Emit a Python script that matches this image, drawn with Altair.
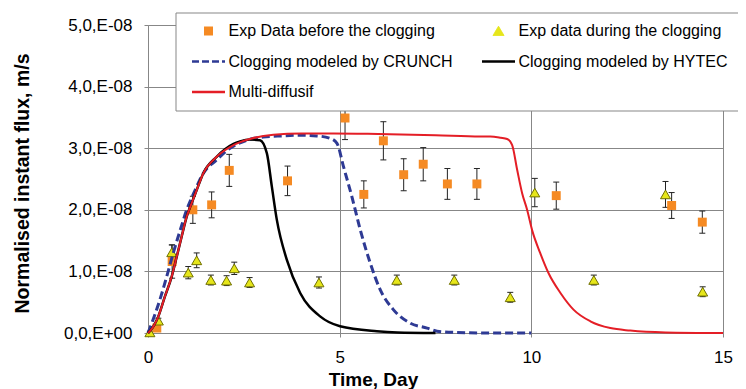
import altair as alt
import pandas as pd

S1 = "Exp Data before the clogging"
S2 = "Exp data during the clogging"
S3 = "Clogging modeled by CRUNCH"
S4 = "Clogging modeled by HYTEC"
S5 = "Multi-diffusif"
series_names = [S1, S2, S3, S4, S5]
series_colors = ["#F58A23", "#E6E61A", "#2E3A94", "#000000", "#E41E26"]

UNIT = 1e-8  # values below are in units of 1e-8 m/s

# Exp data before the clogging (orange squares) with error bars
sq_x = [0.23, 0.63, 1.17, 1.66, 2.12, 3.64, 5.14, 5.63, 6.14, 6.67, 7.18, 7.81, 8.58, 10.65, 13.66, 14.46]
sq_y = [0.08, 1.16, 2.00, 2.08, 2.64, 2.47, 3.49, 2.25, 3.12, 2.57, 2.74, 2.42, 2.42, 2.23, 2.07, 1.80]
sq_err = [0.03, 0.27, 0.22, 0.21, 0.26, 0.24, 0.35, 0.22, 0.31, 0.26, 0.27, 0.25, 0.25, 0.22, 0.21, 0.18]

# Exp data during the clogging (yellow triangles) with error bars
tri_x = [0.05, 0.27, 0.62, 1.05, 1.27, 1.64, 2.05, 2.25, 2.65, 4.46, 6.49, 7.99, 9.45, 10.09, 11.63, 13.50, 14.47]
tri_y = [0.01, 0.20, 1.31, 0.98, 1.18, 0.86, 0.85, 1.05, 0.82, 0.82, 0.86, 0.86, 0.58, 2.28, 0.86, 2.25, 0.67]
tri_err = [0.02, 0.04, 0.12, 0.10, 0.12, 0.08, 0.08, 0.10, 0.08, 0.09, 0.08, 0.08, 0.08, 0.23, 0.08, 0.21, 0.08]

# Clogging modeled by CRUNCH (blue dashed)
crunch_x = [0, 0.10, 0.31, 0.49, 0.66, 0.84, 1.01, 1.23, 1.44, 1.79, 2.14, 2.58, 3.00, 3.50, 3.97, 4.40,
            4.75, 4.93, 5.10, 5.32, 5.54, 5.80, 6.06, 6.40, 6.84, 7.28, 7.54, 8.00, 9.00, 10.00]
crunch_y = [0, 0.16, 0.54, 0.92, 1.30, 1.67, 2.00, 2.32, 2.59, 2.81, 3.00, 3.13, 3.18, 3.20, 3.21, 3.20,
            3.16, 3.08, 2.70, 2.21, 1.67, 1.13, 0.70, 0.38, 0.16, 0.08, 0.03, 0.01, 0, 0]

# Clogging modeled by HYTEC (black)
hytec_x = [0, 0.05, 0.27, 0.44, 0.62, 0.75, 0.88, 1.01, 1.14, 1.27, 1.44, 1.79, 2.23, 2.40, 2.66, 2.92,
           3.10, 3.23, 3.36, 3.62, 3.97, 4.49, 5.01, 5.97, 6.50, 7.50]
hytec_y = [0, 0.03, 0.27, 0.59, 0.92, 1.24, 1.57, 1.89, 2.11, 2.32, 2.59, 2.86, 3.07, 3.11, 3.14, 3.13,
           2.92, 2.38, 1.84, 1.19, 0.65, 0.27, 0.11, 0.03, 0.01, 0]

# Multi-diffusif (red)
md_x = [0, 0.05, 0.27, 0.44, 0.62, 0.75, 0.88, 1.01, 1.14, 1.27, 1.44, 1.79, 2.23, 2.66, 3.27, 4.00,
        4.84, 6.00, 7.50, 8.67, 8.93, 9.20, 9.37, 9.50, 9.63, 9.76, 9.89, 10.02, 10.23, 10.45, 10.76,
        11.10, 11.54, 12.06, 12.58, 13.50, 15.00]
md_y = [0, 0.03, 0.27, 0.59, 0.92, 1.24, 1.57, 1.89, 2.11, 2.32, 2.59, 2.86, 3.05, 3.15, 3.22, 3.24,
        3.24, 3.23, 3.21, 3.19, 3.19, 3.17, 3.15, 3.05, 2.65, 2.27, 2.00, 1.67, 1.30, 0.97, 0.65,
        0.38, 0.19, 0.08, 0.04, 0.01, 0]

x_ticks = [0, 5, 10, 15]
y_ticks = [0, 1e-8, 2e-8, 3e-8, 4e-8, 5e-8]


def points_df(xs, ys, errs, name):
    return pd.DataFrame({
        "t": xs,
        "v": [y * UNIT for y in ys],
        "lo": [(y - e) * UNIT for y, e in zip(ys, errs)],
        "hi": [(y + e) * UNIT for y, e in zip(ys, errs)],
        "series": name,
    })


def line_df(xs, ys, name):
    return pd.DataFrame({"t": xs, "v": [y * UNIT for y in ys], "series": name})


sq_df = points_df(sq_x, sq_y, sq_err, S1)
tri_df = points_df(tri_x, tri_y, tri_err, S2)
err_df = pd.concat([sq_df, tri_df], ignore_index=True)
crunch_df = line_df(crunch_x, crunch_y, S3)
hytec_df = line_df(hytec_x, hytec_y, S4)
md_df = line_df(md_x, md_y, S5)

FONT = "Liberation Sans"
GRID = "#878787"

xaxis = alt.Axis(
    values=x_ticks, grid=True, gridColor=GRID, gridWidth=1,
    domainColor=GRID, tickColor=GRID, tickSize=4, labelPadding=12,
    labelFont=FONT, labelFontSize=17, labelColor="black", labelFlush=False,
    titleFont=FONT, titleFontSize=19, titleFontWeight="bold", titleColor="black",
    titleX=225, titleY=52, titleAlign="center", titleBaseline="alphabetic",
)
yaxis = alt.Axis(
    values=y_ticks, grid=True, gridColor=GRID, gridWidth=1,
    domainColor=GRID, tickColor=GRID, tickSize=4, labelPadding=12,
    labelExpr="datum.value == 0 ? '0,0,E+00' : replace(format(datum.value * 1e8, '.1f'), '.', ',') + ',E-08'",
    labelFont=FONT, labelFontSize=17, labelColor="black",
    titleFont=FONT, titleFontSize=19.5, titleFontWeight="bold", titleColor="black",
    titleX=-126, titleY=158, titleAngle=-90, titleAlign="center", titleBaseline="middle",
)
xscale = alt.Scale(domain=[0, 15], nice=False)
yscale = alt.Scale(domain=[0, 5e-8], nice=False)

X = alt.X("t:Q", scale=xscale, axis=xaxis, title="Time, Day")


def Y(field):
    return alt.Y(f"{field}:Q", scale=yscale, axis=yaxis, title="Normalised instant flux, m/s")


is_sq = f"datum.value === '{S1}'"
is_tri = f"datum.value === '{S2}'"
is_dash = f"datum.value === '{S3}'"
SQ_PATH = "M-0.9,-0.9H0.9V0.9H-0.9Z"
TRI_PATH = "M0,-0.95L1.1,0.9L-1.1,0.9Z"
LINE_PATH = "M-3.3,0H3.3"

legend = alt.Legend(
    title=None, orient="none", legendX=27.5, legendY=-12.5, columns=2, direction="horizontal",
    padding=10.5, rowPadding=14.5, columnPadding=23,
    symbolSize=100, symbolOffset=14.5, labelOffset=12,
    symbolStrokeWidth={"expr": f"{is_sq} ? 0 : ({is_tri} ? 1 : 2.5)"},
    symbolType={"expr": f"{is_sq} ? '{SQ_PATH}' : ({is_tri} ? '{TRI_PATH}' : '{LINE_PATH}')"},
    symbolDash={"expr": f"{is_dash} ? [7, 3] : [1, 0]"},
    symbolFillColor={"expr": f"({is_sq} || {is_tri}) ? scale('color', datum.value) : 'transparent'"},
    symbolStrokeColor={"expr": f"{is_sq} ? 'transparent' : ({is_tri} ? '#707000' : scale('color', datum.value))"},
    symbolOpacity=1,
    fillColor="white", strokeColor=GRID,
    labelFont=FONT, labelFontSize=16, labelColor="black", labelLimit=400,
)
color = alt.Color("series:N", scale=alt.Scale(domain=series_names, range=series_colors), legend=legend)

bars = alt.Chart(err_df).mark_rule(color="#222222", strokeWidth=1).encode(x=X, y=Y("lo"), y2="hi:Q")
cap_lo = alt.Chart(err_df).mark_tick(color="#222222", thickness=1, size=6, orient="horizontal", opacity=1).encode(x=X, y=Y("lo"))
cap_hi = alt.Chart(err_df).mark_tick(color="#222222", thickness=1, size=6, orient="horizontal", opacity=1).encode(x=X, y=Y("hi"))

squares = alt.Chart(sq_df).mark_point(shape="square", filled=True, size=80, opacity=1).encode(
    x=X, y=Y("v"), color=color)
triangles = alt.Chart(tri_df).mark_point(shape="triangle-up", filled=True, size=100, opacity=1).encode(
    x=X, y=Y("v"), color=color)
tri_outline = alt.Chart(tri_df).mark_point(shape="triangle-up", filled=False, size=100, opacity=1,
                                           color="#707000", strokeWidth=1).encode(x=X, y=Y("v"))

crunch = alt.Chart(crunch_df).mark_line(interpolate="monotone").encode(
    x=X, y=Y("v"), color=color, strokeDash=alt.value([8, 4]), strokeWidth=alt.value(3))
hytec = alt.Chart(hytec_df).mark_line(interpolate="monotone").encode(
    x=X, y=Y("v"), color=color, strokeWidth=alt.value(2.5))
md = alt.Chart(md_df).mark_line(interpolate="monotone").encode(
    x=X, y=Y("v"), color=color, strokeWidth=alt.value(2))

chart = alt.layer(bars, cap_lo, cap_hi, squares, triangles, tri_outline, crunch, hytec, md).properties(
    width=575, height=308,
    autosize=alt.AutoSizeParams(type="none"),
    padding={"left": 140, "top": 17, "right": 15, "bottom": 56},
).configure_view(stroke=None)

chart.save("out.html", embed_options={"renderer": "svg", "actions": False})
